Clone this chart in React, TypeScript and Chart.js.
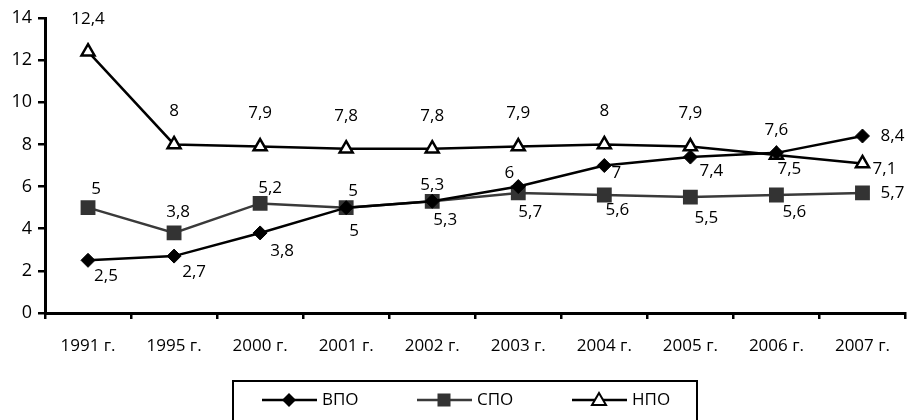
import React, { useEffect, useRef } from "react";
import { Chart, registerables } from "chart.js";

Chart.register(...registerables);

const categories = ["1991 г.", "1995 г.", "2000 г.", "2001 г.", "2002 г.", "2003 г.", "2004 г.", "2005 г.", "2006 г.", "2007 г."];
const vpo = [2.5, 2.7, 3.8, 5, 5.3, 6, 7, 7.4, 7.6, 8.4];
const spo = [5, 3.8, 5.2, 5, 5.3, 5.7, 5.6, 5.5, 5.6, 5.7];
const npo = [12.4, 8, 7.9, 7.8, 7.8, 7.9, 8, 7.9, 7.5, 7.1];
const seriesNames = ["ВПО", "СПО", "НПО"];

// data-label offsets from each point (style only), [dx, dy] of the text centre
const vpoLabelOffset = [[18, 16], [20, 16], [22, 18], [8, 24], [13, 19], [-9, -13], [12, 8], [21, 14], [0, -23], [30, 0]];
const spoLabelOffset = [[8, -18], [4, -21], [10, -15], [7, -16], [0, -16], [12, 19], [13, 15], [16, 21], [18, 17], [30, 0]];
const npoLabelOffset = [[0, -33], [0, -33], [0, -33], [0, -32], [0, -32], [0, -33], [0, -33], [0, -33], [13, 14], [22, 6]];

const FONT = "'Open Sans', 'Noto Sans', sans-serif";

const fmt = (v: number) => String(v).replace(".", ",");

const labelsPlugin = {
  id: "pointLabels",
  afterDatasetsDraw(chart: any) {
    const ctx = chart.ctx;
    const offs = [vpoLabelOffset, spoLabelOffset, npoLabelOffset];
    ctx.save();
    ctx.font = `17px ${FONT}`;
    ctx.fillStyle = "#000";
    ctx.textBaseline = "middle";
    ctx.textAlign = "center";
    chart.data.datasets.forEach((ds: any, di: number) => {
      const meta = chart.getDatasetMeta(di);
      meta.data.forEach((pt: any, i: number) => {
        const [dx, dy] = offs[di][i];
        ctx.fillText(fmt(ds.data[i]), pt.x + dx, pt.y + dy);
      });
    });
    ctx.restore();
  },
};

const legendPlugin = {
  id: "boxLegend",
  afterDraw(chart: any) {
    const ctx = chart.ctx;
    ctx.save();
    ctx.strokeStyle = "#000";
    ctx.lineWidth = 2;
    ctx.strokeRect(233, 381, 464, 60);
    const starts = [262, 417, 572];
    const cy = 400;
    ctx.font = `17px ${FONT}`;
    ctx.textBaseline = "middle";
    ctx.textAlign = "left";
    chart.data.datasets.forEach((ds: any, i: number) => {
      const x0 = starts[i];
      ctx.strokeStyle = ds.borderColor;
      ctx.lineWidth = 2.5;
      ctx.beginPath();
      ctx.moveTo(x0, cy);
      ctx.lineTo(x0 + 55, cy);
      ctx.stroke();
      const mx = x0 + 27;
      ctx.fillStyle = ds.pointBackgroundColor;
      ctx.strokeStyle = ds.pointBorderColor;
      ctx.lineWidth = 2;
      if (ds.pointStyle === "rectRot") {
        ctx.beginPath();
        ctx.moveTo(mx, cy - 7); ctx.lineTo(mx + 7, cy); ctx.lineTo(mx, cy + 7); ctx.lineTo(mx - 7, cy); ctx.closePath();
        ctx.fill();
      } else if (ds.pointStyle === "rect") {
        ctx.fillRect(mx - 6.5, cy - 6.5, 13, 13);
      } else {
        ctx.beginPath();
        ctx.moveTo(mx, cy - 7); ctx.lineTo(mx + 7, cy + 5); ctx.lineTo(mx - 7, cy + 5); ctx.closePath();
        ctx.fill(); ctx.stroke();
      }
      ctx.fillStyle = "#000";
      ctx.fillText(ds.label, x0 + 60, cy);
    });
    ctx.restore();
  },
};

export default function App() {
  const ref = useRef<HTMLCanvasElement>(null);
  useEffect(() => {
    if (!ref.current) return;
    const chart = new Chart(ref.current, {
      type: "line",
      data: {
        labels: categories,
        datasets: [
          {
            label: seriesNames[0], data: vpo, borderColor: "#000", borderWidth: 2.5,
            pointStyle: "rectRot", pointRadius: 7, pointBackgroundColor: "#000", pointBorderColor: "#000", pointBorderWidth: 1,
          },
          {
            label: seriesNames[1], data: spo, borderColor: "#3a3a3a", borderWidth: 2.5,
            pointStyle: "rect", pointRadius: 10.5, pointBackgroundColor: "#333", pointBorderColor: "#333", pointBorderWidth: 0,
          },
          {
            label: seriesNames[2], data: npo, borderColor: "#000", borderWidth: 2.5,
            pointStyle: "triangle", pointRadius: 7.5, pointBackgroundColor: "#fff", pointBorderColor: "#000", pointBorderWidth: 2.5,
          },
        ] as any,
      },
      options: {
        animation: false,
        responsive: false,
        maintainAspectRatio: false,
        layout: { padding: { top: 18, right: 4, left: 0, bottom: 0 } },
        plugins: { legend: { display: false }, tooltip: { enabled: false } },
        scales: {
          x: {
            offset: true,
            grid: { offset: true, drawOnChartArea: false, color: "#000", tickLength: 6, lineWidth: 2.5 },
            border: { color: "#000", width: 3 },
            ticks: { color: "#000", font: { family: FONT, size: 17 }, padding: 17, maxRotation: 0, autoSkip: false },
            afterFit: (s: any) => { s.height = 107; },
          },
          y: {
            min: 0, max: 14,
            grid: { drawOnChartArea: false, color: "#000", tickLength: 7, lineWidth: 2.5 },
            border: { color: "#000", width: 3 },
            ticks: { stepSize: 2, color: "#000", font: { family: FONT, size: 18 }, padding: 6 },
            afterFit: (s: any) => { s.width = 45; },
          },
        },
      } as any,
      plugins: [labelsPlugin, legendPlugin],
    });
    return () => chart.destroy();
  }, []);
  return (
    <div style={{ position: "fixed", left: 0, top: 0, width: 916, height: 420, background: "#fff" }}>
      <canvas ref={ref} width={916} height={420} style={{ width: 916, height: 420 }} />
    </div>
  );
}
